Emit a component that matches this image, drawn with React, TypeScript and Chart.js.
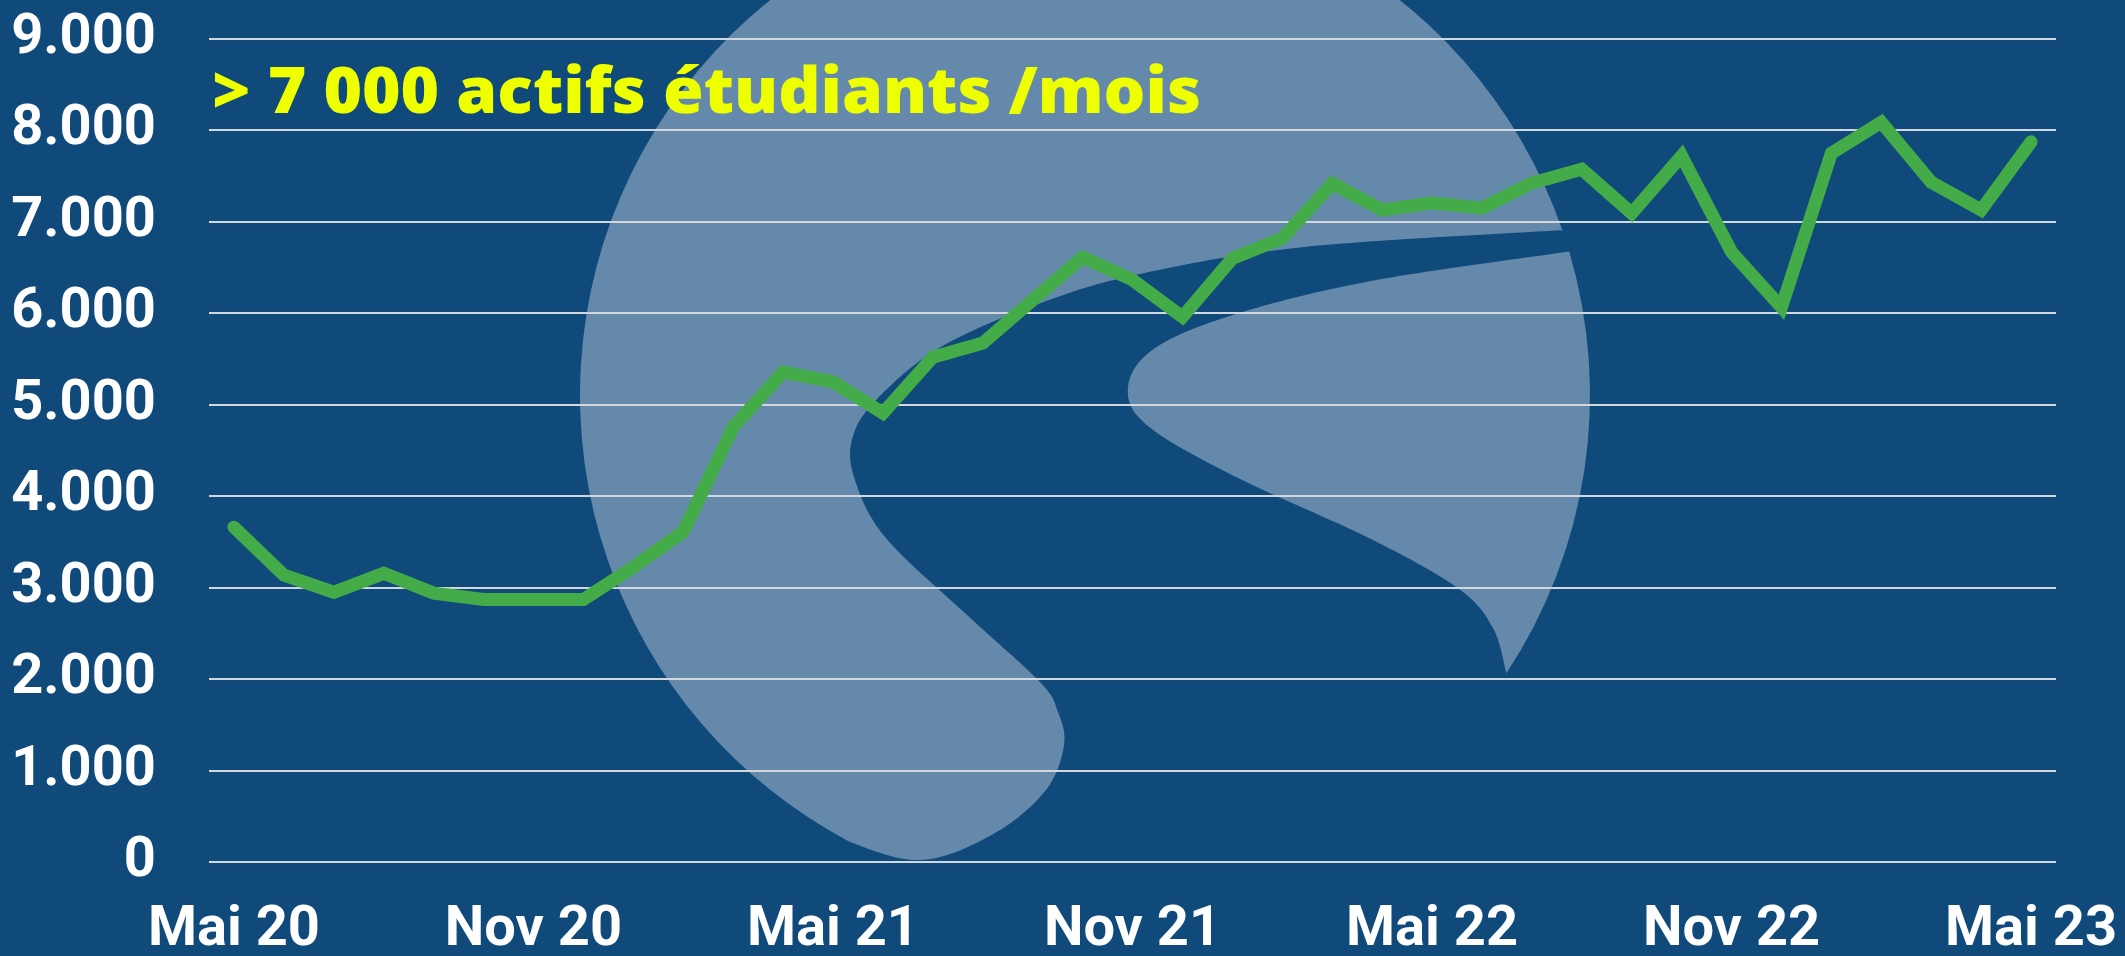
import React, { useEffect, useRef } from "react";
import { Chart, registerables } from "chart.js";

Chart.register(...registerables);

// ---- Data ----
const months: string[] = [
  "Mai 20", "Juin 20", "Juil 20", "Août 20", "Sep 20", "Oct 20", "Nov 20", "Déc 20",
  "Jan 21", "Fév 21", "Mar 21", "Avr 21", "Mai 21", "Juin 21", "Juil 21", "Août 21",
  "Sep 21", "Oct 21", "Nov 21", "Déc 21", "Jan 22", "Fév 22", "Mar 22", "Avr 22",
  "Mai 22", "Juin 22", "Juil 22", "Août 22", "Sep 22", "Oct 22", "Nov 22", "Déc 22",
  "Jan 23", "Fév 23", "Mar 23", "Avr 23", "Mai 23",
];

const activeStudents: number[] = [
  3662, 3137, 2950, 3157, 2940, 2870, 2870, 2870,
  3225, 3610, 4755, 5357, 5250, 4910, 5520, 5675,
  6145, 6615, 6365, 5960, 6600, 6820, 7420, 7130,
  7205, 7150, 7425, 7575, 7095, 7720, 6670, 6065,
  7750, 8090, 7435, 7130, 7875,
];

const yMin = 0;
const yMax = 9000;
const yStep = 1000;
const xLabelEvery = 6;
const headline = "> 7 000 actifs étudiants /mois";

// ---- Styles ----
const BG = "#0F4A7B";
const WATERMARK = "#6489AA";
const LINE = "#43AC48";
const GRID = "#D2D7DD";
const YELLOW = "#EEFF00";

const fmtThousands = (v: number) =>
  String(Math.round(v)).replace(/\B(?=(\d{3})+(?!\d))/g, ".");

type P = [number, number];

// Catmull-Rom through pts; pts[0] may be a phantom tangent guide when flagged
function smoothThrough(ctx: CanvasRenderingContext2D, pts: P[], phantomStart = false) {
  const s = phantomStart ? 1 : 0;
  for (let i = s; i < pts.length - 1; i++) {
    const p0 = pts[i - 1] || pts[i];
    const p1 = pts[i];
    const p2 = pts[i + 1];
    const p3 = pts[i + 2] || p2;
    const c1x = p1[0] + (p2[0] - p0[0]) / 6;
    const c1y = p1[1] + (p2[1] - p0[1]) / 6;
    const c2x = p2[0] - (p3[0] - p1[0]) / 6;
    const c2y = p2[1] - (p3[1] - p1[1]) / 6;
    ctx.bezierCurveTo(c1x, c1y, c2x, c2y, p2[0], p2[1]);
  }
}

const deg = (d: number) => (d * Math.PI) / 180;

const backgroundPlugin = {
  id: "bgWatermark",
  beforeDraw(chart: any) {
    const ctx: CanvasRenderingContext2D = chart.ctx;
    const { width, height } = chart;
    ctx.save();
    ctx.fillStyle = BG;
    ctx.fillRect(0, 0, width, height);

    const cx = 1085, cy = 395, r = 505;
    const onC = (a: number): P => [cx + r * Math.cos(deg(a)), cy + r * Math.sin(deg(a))];
    ctx.fillStyle = WATERMARK;

    // upper-left body + tail
    ctx.beginPath();
    const a0 = Math.atan2(230 - cy, 1564 - cx);
    ctx.arc(cx, cy, r, a0, deg(118), true);
    smoothThrough(
      ctx,
      [
        onC(124), onC(118), [922, 860], [995, 833],
        [1046, 790], [1064, 745], [1058, 712], [1040, 682], [966, 614],
        [885, 537], [854, 477], [853, 436], [878, 398], [939, 348],
        [1033, 306], [1135, 275], [1304, 247], [1564, 230],
      ],
      true
    );
    ctx.closePath();
    ctx.fill();

    // lower-right lobe
    ctx.beginPath();
    const b0 = Math.atan2(251 - cy, 1571 - cx);
    const b1 = Math.atan2(673 - cy, 1506 - cx);
    const pb0: P = [cx + r * Math.cos(b0), cy + r * Math.sin(b0)];
    const pb1: P = [cx + r * Math.cos(b1), cy + r * Math.sin(b1)];
    ctx.moveTo(pb0[0], pb0[1]);
    smoothThrough(ctx, [
      pb0, [1371, 281], [1236, 314],
      [1155, 348], [1128, 387], [1148, 426], [1236, 477], [1371, 539],
      [1459, 589], [1493, 628], pb1,
    ]);
    ctx.arc(cx, cy, r, b1, b0, true);
    ctx.closePath();
    ctx.fill();
    ctx.restore();
  },
  afterDraw(chart: any) {
    const ctx: CanvasRenderingContext2D = chart.ctx;
    const { left, top } = chart.chartArea;
    ctx.save();
    ctx.font = '800 63px "Open Sans"';
    ctx.fillStyle = YELLOW;
    ctx.textBaseline = "alphabetic";
    const w = ctx.measureText(headline).width;
    ctx.translate(left + 3, top + 74);
    ctx.scale(989 / w, 1);
    ctx.fillText(headline, 0, 0);
    ctx.restore();
  },
};

export default function App() {
  const canvasRef = useRef<HTMLCanvasElement | null>(null);

  useEffect(() => {
    if (!canvasRef.current) return;
    const tickFont = { family: "Roboto", weight: "bold" as const, size: 56 };
    const chart = new Chart(canvasRef.current, {
      type: "line",
      data: {
        labels: months,
        datasets: [
          {
            data: activeStudents,
            borderColor: LINE,
            borderWidth: 13,
            borderCapStyle: "round",
            borderJoinStyle: "miter",
            pointRadius: 0,
            pointHoverRadius: 0,
            tension: 0,
            fill: false,
          },
        ],
      },
      options: {
        animation: false,
        responsive: true,
        maintainAspectRatio: false,
        layout: { padding: { top: 39, right: 69, left: 0, bottom: 0 } },
        plugins: {
          legend: { display: false },
          tooltip: { enabled: false },
          title: { display: false },
        },
        scales: {
          x: {
            type: "category",
            offset: true,
            grid: { display: false, drawTicks: false },
            border: { display: false },
            ticks: {
              autoSkip: false,
              maxRotation: 0,
              minRotation: 0,
              padding: 35,
              color: "#FFFFFF",
              font: tickFont,
              callback: (_v: any, i: number) => (i % xLabelEvery === 0 ? months[i] : ""),
            },
            afterFit: (s: any) => {
              s.height = 94;
              s.paddingLeft = 0;
              s.paddingRight = 0;
            },
          },
          y: {
            min: yMin,
            max: yMax,
            grid: { color: GRID, lineWidth: 2, drawTicks: false },
            border: { display: false },
            ticks: {
              stepSize: yStep,
              padding: 53,
              color: "#FFFFFF",
              font: tickFont,
              callback: (v: any) => fmtThousands(Number(v)),
            },
            afterFit: (s: any) => {
              s.width = 209;
              s.paddingTop = 0;
              s.paddingBottom = 0;
            },
          },
        },
      },
      plugins: [backgroundPlugin],
    } as any);
    return () => chart.destroy();
  }, []);

  return (
    <div
      style={{
        position: "fixed",
        left: 0,
        top: 0,
        width: 2125,
        height: 956,
        background: BG,
      }}
    >
      <canvas ref={canvasRef} />
    </div>
  );
}
